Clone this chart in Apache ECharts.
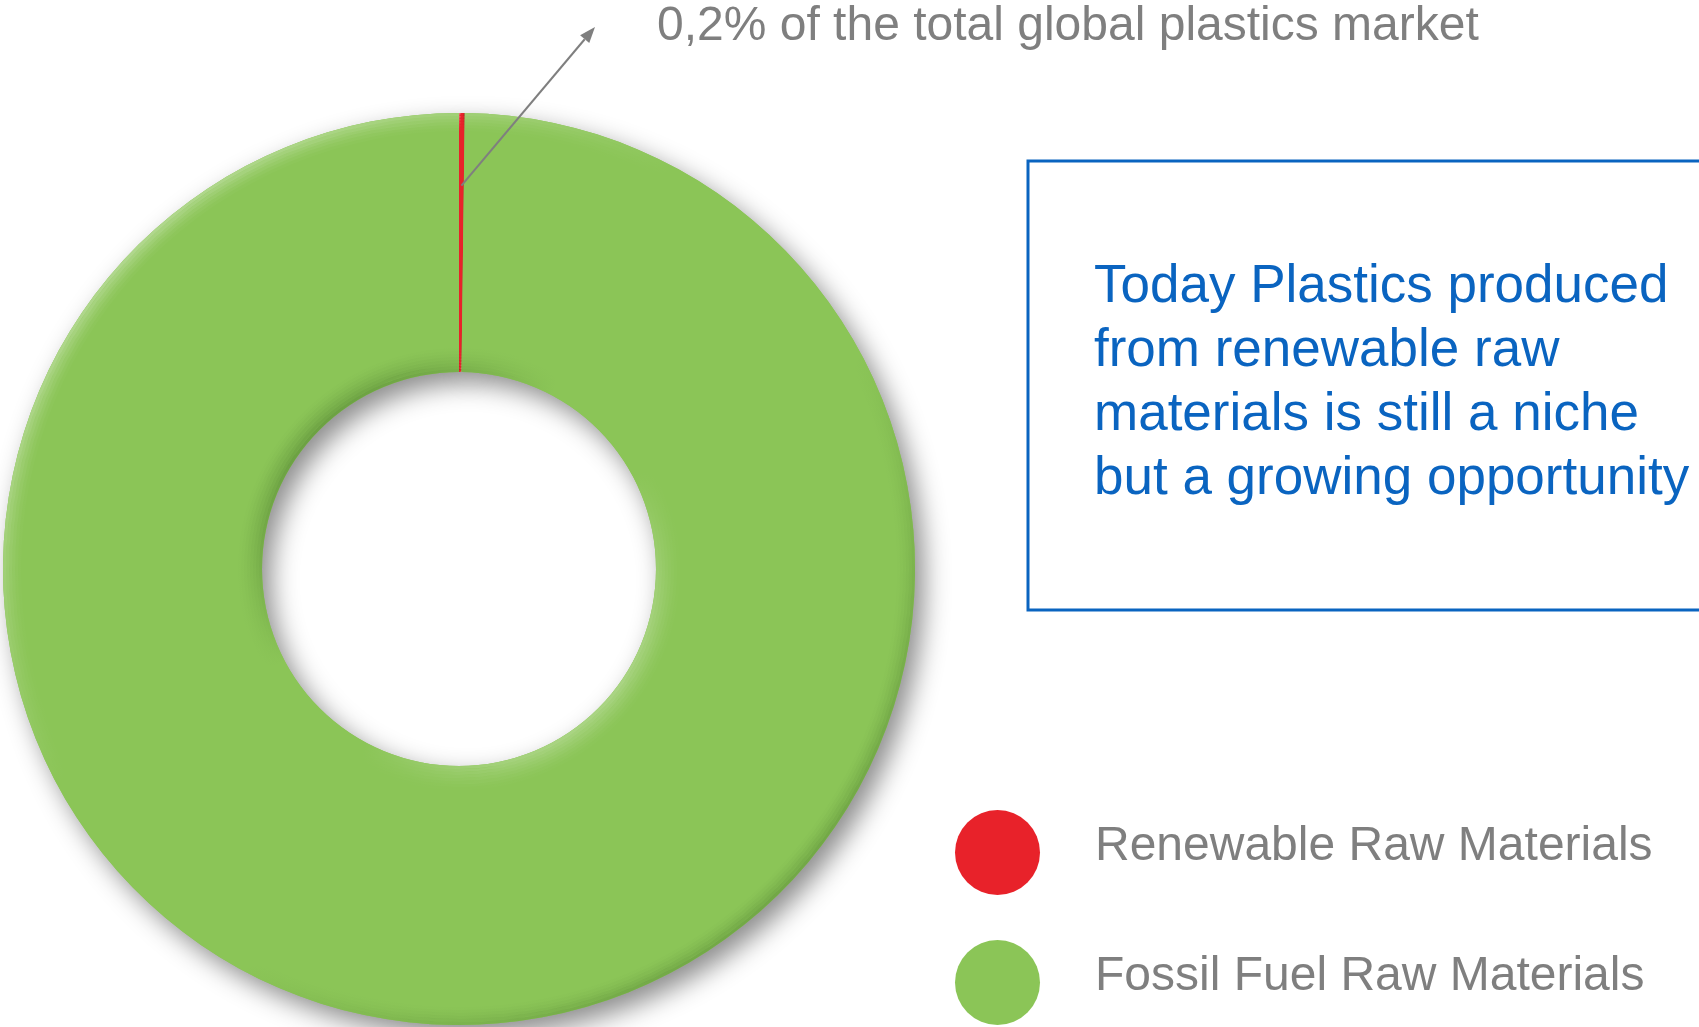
<!DOCTYPE html>
<html>
<head>
<meta charset="utf-8">
<title>Plastics raw materials</title>
<script src="https://cdn.jsdelivr.net/npm/echarts@6/dist/echarts.min.js"></script>
<style>
  html, body { margin: 0; padding: 0; background: #ffffff; }
  #chart { width: 1699px; height: 1027px; }
</style>
</head>
<body>
<div id="chart"></div>
<script>
// Share of the global plastics market by raw-material origin (%)
const categories = ['Renewable Raw Materials', 'Fossil Fuel Raw Materials'];
const shares = [0.2, 99.8];
const sliceColors = ['#e8222a', '#8bc557'];

const calloutText = '0,2% of the total global plastics market';
const noteLines = [
  'Today Plastics produced',
  'from renewable raw',
  'materials is still a niche',
  'but a growing opportunity'
];

const FONT = 'Liberation Sans';
const GREY = '#7f7f7f';
const BLUE = '#0a64c0';
const CENTER = [459, 569];
const R_IN = 197;
const R_OUT = 456;

const chart = echarts.init(document.getElementById('chart'), null, { renderer: 'canvas' });

const baseSeries = {
  type: 'pie',
  center: CENTER,
  startAngle: 90,
  clockwise: true,
  silent: true,
  animation: false,
  label: { show: false },
  labelLine: { show: false },
  emphasis: { disabled: true }
};

function rgba(c, a) {
  return 'rgba(' + c[0] + ',' + c[1] + ',' + c[2] + ',' + a.toFixed(3) + ')';
}

// Soft bevel: thin concentric rings carrying a diagonal light/dark gradient
function bevelRings(fromR, step, count, inward, tl, br) {
  const out = [];
  for (let i = 0; i < count; i++) {
    const k = Math.pow(1 - i / count, 1.5);
    const a = inward ? fromR - (i + 1) * step : fromR + i * step;
    const b = a + step;
    const grad = new echarts.graphic.LinearGradient(0, 0, 1, 1, [
      { offset: 0, color: rgba(tl, tl[3] * k) },
      { offset: 0.4, color: rgba(tl, 0) },
      { offset: 0.6, color: rgba(br, 0) },
      { offset: 1, color: rgba(br, br[3] * k) }
    ]);
    out.push(Object.assign({}, baseSeries, {
      z: 3,
      radius: [a, b],
      itemStyle: { color: grad, borderWidth: 0 },
      data: shares.map(v => ({ value: v }))
    }));
  }
  return out;
}

const series = [
  // drop shadow layer under the ring
  Object.assign({}, baseSeries, {
    z: 1,
    radius: [R_IN, R_OUT],
    itemStyle: {
      borderWidth: 0,
      shadowBlur: 26,
      shadowOffsetX: 9,
      shadowOffsetY: 11,
      shadowColor: 'rgba(0,0,0,0.45)'
    },
    data: shares.map(v => ({ value: v, itemStyle: { color: sliceColors[1] } }))
  }),
  // the donut itself
  Object.assign({}, baseSeries, {
    z: 2,
    radius: [R_IN, R_OUT],
    itemStyle: { borderWidth: 0 },
    data: categories.map((name, i) => ({
      name: name,
      value: shares[i],
      itemStyle: { color: sliceColors[i] }
    }))
  })
]
  .concat(bevelRings(R_OUT, 3, 6, true, [255, 255, 255, 0.5], [30, 70, 15, 0.36]))
  .concat(bevelRings(R_IN, 3, 8, false, [30, 70, 15, 0.45], [255, 255, 255, 0.42]));

chart.setOption({
  backgroundColor: '#ffffff',
  animation: false,
  legend: {
    orient: 'vertical',
    left: 955,
    top: 810,
    height: 230,
    padding: 0,
    itemWidth: 85,
    itemHeight: 85,
    itemGap: 45,
    icon: 'circle',
    selectedMode: false,
    data: categories,
    itemStyle: { borderWidth: 0, shadowBlur: 0, shadowColor: 'transparent' },
    formatter: function (name) { return '{t|' + name + '}'; },
    textStyle: {
      fontFamily: FONT,
      fontSize: 48,
      color: GREY,
      padding: [0, 0, 0, 50],
      rich: {
        t: {
          fontFamily: FONT,
          fontSize: 48,
          color: GREY,
          padding: [0, 0, 11, 0]
        }
      }
    }
  },
  series: series
});

// Callout arrow from the renewable slice to its caption
let sliceMid = -Math.PI / 2 + Math.PI * 2 * (shares[0] / 2) / shares.reduce((s, v) => s + v, 0);
let cx = CENTER[0], cy = CENTER[1], r0 = R_IN, r1 = R_OUT;
try {
  const lay = chart.getModel().getSeriesByIndex(1).getData().getItemLayout(0);
  sliceMid = (lay.startAngle + lay.endAngle) / 2;
  cx = lay.cx; cy = lay.cy; r0 = lay.r0; r1 = lay.r;
} catch (e) {}
const rr = r0 + 0.72 * (r1 - r0);
const start = [cx + rr * Math.cos(sliceMid), cy + rr * Math.sin(sliceMid)];
const tip = [595, 27];
const dx = tip[0] - start[0], dy = tip[1] - start[1];
const len = Math.sqrt(dx * dx + dy * dy);
const ux = dx / len, uy = dy / len;
const headLen = 16, headHalf = 6;
const base = [tip[0] - ux * headLen, tip[1] - uy * headLen];

chart.setOption({
  graphic: [
    {
      type: 'line',
      z: 10,
      shape: { x1: start[0], y1: start[1], x2: base[0], y2: base[1] },
      style: { stroke: GREY, lineWidth: 2 }
    },
    {
      type: 'polygon',
      z: 10,
      shape: {
        points: [
          tip,
          [base[0] - uy * headHalf, base[1] + ux * headHalf],
          [base[0] + uy * headHalf, base[1] - ux * headHalf]
        ]
      },
      style: { fill: GREY }
    },
    {
      type: 'text',
      z: 10,
      left: 657,
      top: 3,
      style: { text: calloutText, fontSize: 48, fontFamily: FONT, fill: GREY }
    },
    {
      type: 'rect',
      z: 10,
      shape: { x: 1028, y: 161, width: 720, height: 449 },
      style: { fill: 'none', stroke: BLUE, lineWidth: 3 }
    },
    {
      type: 'text',
      z: 10,
      left: 1094,
      top: 255,
      style: {
        text: noteLines.join('\n'),
        fontSize: 53,
        fontFamily: FONT,
        lineHeight: 64,
        fill: BLUE
      }
    }
  ]
});
</script>
</body>
</html>
